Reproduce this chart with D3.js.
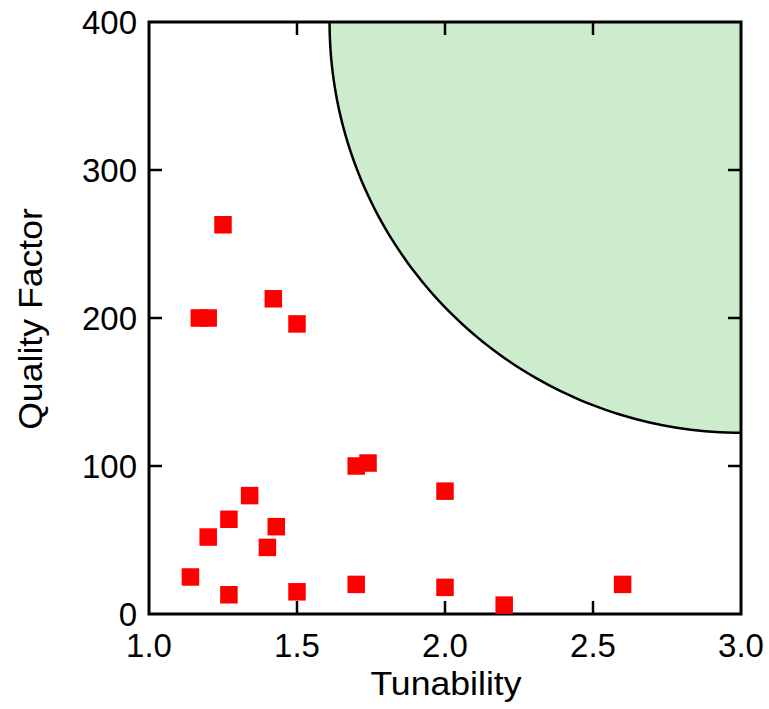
<!DOCTYPE html>
<html>
<head>
<meta charset="utf-8">
<script src="https://cdn.jsdelivr.net/npm/d3@7"></script>
<style>
  html, body { margin: 0; padding: 0; background: #fff; }
  svg text { font-family: "Liberation Sans", Arial, Helvetica, sans-serif; fill: #000; }
</style>
</head>
<body>
<svg id="chart" width="769" height="709"></svg>
<script>
// Measured samples: tunability vs. quality factor
const tunability = [1.25, 1.17, 1.20, 1.42, 1.50, 1.34, 1.27, 1.20, 1.43, 1.40,
                    1.14, 1.27, 1.50, 1.70, 1.74, 2.00, 1.70, 2.00, 2.20, 2.60];
const quality    = [263, 200, 200, 213, 196, 80, 64, 52, 59, 45,
                    25, 13, 15, 100, 102, 83, 20, 18, 6, 20];

const xTicks = [1.0, 1.5, 2.0, 2.5, 3.0];
const yTicks = [0, 100, 200, 300, 400];

// Target region: quarter ellipse anchored at the top-right corner
const target = { cx: 3.0, cy: 400, rx: 1.39, ry: 277.5 };

const svg = d3.select("#chart");
const m = { left: 149, right: 741, top: 22, bottom: 614 };

const x = d3.scaleLinear().domain([1, 3]).range([m.left, m.right]);
const y = d3.scaleLinear().domain([0, 400]).range([m.bottom, m.top]);

// Green target region
const arcPts = d3.range(0, 91).map(d => {
  const t = d * Math.PI / 180;
  return [target.cx - target.rx * Math.cos(t), target.cy - target.ry * Math.sin(t)];
});
const line = d3.line().x(d => x(d[0])).y(d => y(d[1]));
svg.append("path")
  .attr("d", line(arcPts.concat([[target.cx, target.cy]])) + "Z")
  .attr("fill", "#cdebcd")
  .attr("stroke", "none");
svg.append("path")
  .attr("d", line(arcPts))
  .attr("fill", "none")
  .attr("stroke", "#000")
  .attr("stroke-width", 2.5);

// Ticks pointing inward on all four sides
const tickLen = 13;
const tickG = svg.append("g").attr("stroke", "#000").attr("stroke-width", 2.5);
xTicks.slice(1, -1).forEach(v => {
  tickG.append("line").attr("x1", x(v)).attr("x2", x(v)).attr("y1", m.bottom).attr("y2", m.bottom - tickLen);
  tickG.append("line").attr("x1", x(v)).attr("x2", x(v)).attr("y1", m.top).attr("y2", m.top + tickLen);
});
yTicks.slice(1, -1).forEach(v => {
  tickG.append("line").attr("y1", y(v)).attr("y2", y(v)).attr("x1", m.left).attr("x2", m.left + tickLen);
  tickG.append("line").attr("y1", y(v)).attr("y2", y(v)).attr("x1", m.right).attr("x2", m.right - tickLen);
});

// Frame
svg.append("rect")
  .attr("x", m.left).attr("y", m.top)
  .attr("width", m.right - m.left).attr("height", m.bottom - m.top)
  .attr("fill", "none").attr("stroke", "#000").attr("stroke-width", 3);

// Tick labels
const fs = 33;
svg.append("g").selectAll("text").data(xTicks).join("text")
  .attr("text-anchor", "middle")
  .attr("font-size", fs)
  .attr("x", d => x(d)).attr("y", 657)
  .text(d => d.toFixed(1));
svg.append("g").selectAll("text").data(yTicks).join("text")
  .attr("text-anchor", "end")
  .attr("font-size", fs)
  .attr("x", 137).attr("y", d => y(d) + 12)
  .text(d => d);

// Axis titles
svg.append("text")
  .attr("text-anchor", "middle")
  .attr("font-size", fs)
  .attr("transform", `translate(${(m.left + m.right) / 2 + 1},695) scale(1.08,1)`)
  .text("Tunability");
svg.append("text")
  .attr("text-anchor", "middle")
  .attr("font-size", fs)
  .attr("transform", `translate(42,${(m.top + m.bottom) / 2 + 1}) rotate(-90) scale(1.08,1)`)
  .text("Quality Factor");

// Sample markers
const sq = 17.5;
svg.append("g").selectAll("rect").data(d3.range(tunability.length)).join("rect")
  .attr("x", i => x(tunability[i]) - sq / 2)
  .attr("y", i => y(quality[i]) - sq / 2)
  .attr("width", sq).attr("height", sq)
  .attr("fill", "#ff0000");
</script>
</body>
</html>
